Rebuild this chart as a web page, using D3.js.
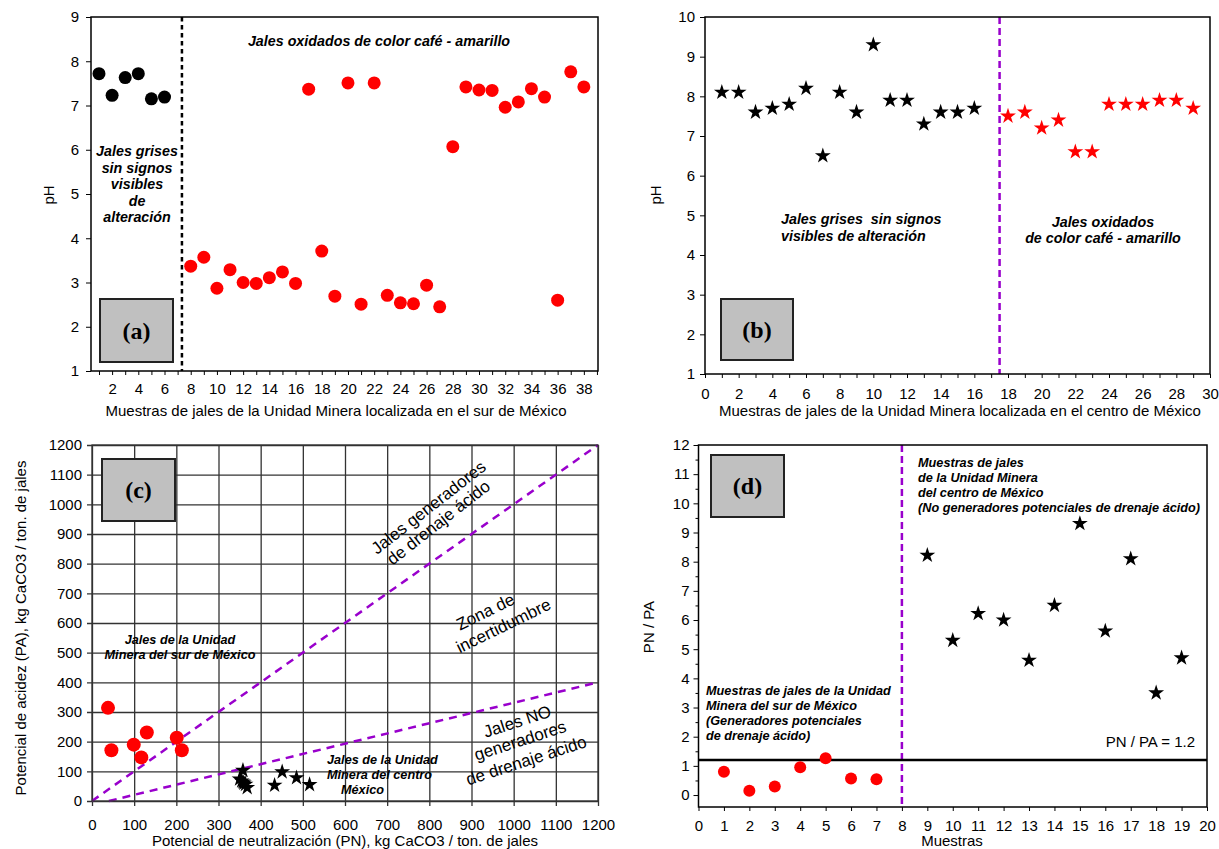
<!DOCTYPE html>
<html>
<head>
<meta charset="utf-8">
<script src="https://cdn.jsdelivr.net/npm/d3@7"></script>
<style>
  body { margin: 0; background: #fff; }
  svg { font-family: "Liberation Sans", Arial, sans-serif; }
  .note { font-weight: bold; font-style: italic; font-size: 12.7px; white-space: pre; }
  .note.big { font-size: 14.3px; }
  .zone { font-size: 17px; }
  .tick text { font-size: 15px; fill: #000; }
  .axis-label { font-size: 15px; }
  .tag { font-family: "Liberation Serif", "Times New Roman", serif; font-weight: bold; font-size: 24px; }
</style>
</head>
<body>
<svg id="chart" width="1219" height="849"></svg>
<script>
// (a) pH, unidad minera del sur
const muestrasGrisSur = [1, 2, 3, 4, 5, 6];
const phGrisSur = [7.72, 7.23, 7.63, 7.72, 7.15, 7.19];
const muestrasOxSur = [8, 9, 10, 11, 12, 13, 14, 15, 16, 17, 18, 19, 20, 21, 22, 23,
  24, 25, 26, 27, 28, 29, 30, 31, 32, 33, 34, 35, 36, 37, 38];
const phOxSur = [3.37, 3.57, 2.87, 3.29, 3.0, 2.98, 3.11, 3.24, 2.98, 7.37, 3.71, 2.69,
  7.51, 2.51, 7.51, 2.71, 2.54, 2.52, 2.94, 2.45, 6.07, 7.42, 7.35, 7.34, 6.96, 7.08,
  7.38, 7.19, 2.6, 7.76, 7.42];

// (b) pH, unidad minera del centro
const muestrasGrisCentro = [1, 2, 3, 4, 5, 6, 7, 8, 9, 10, 11, 12, 13, 14, 15, 16];
const phGrisCentro = [8.1, 8.1, 7.6, 7.7, 7.8, 8.2, 6.5, 8.1, 7.6, 9.3, 7.9, 7.9, 7.3, 7.6, 7.6, 7.7];
const muestrasOxCentro = [18, 19, 20, 21, 22, 23, 24, 25, 26, 27, 28, 29];
const phOxCentro = [7.5, 7.6, 7.2, 7.4, 6.6, 6.6, 7.8, 7.8, 7.8, 7.9, 7.9, 7.7];

// (c) PA vs PN
const pnSur = [38, 46, 99, 117, 130, 201, 213];
const paSur = [314, 171, 190, 147, 231, 213, 171];
const pnCentro = [433, 355, 485, 360, 451, 364, 516, 358, 368, 358, 350];
const paCentro = [53, 67, 78, 60, 98, 56, 55, 64, 45, 103, 74];

// (d) PN / PA
const muestrasSur = [1, 2, 3, 4, 5, 6, 7];
const ratioSur = [0.8, 0.15, 0.29, 0.95, 1.26, 0.57, 0.54];
const muestrasCentro = [9, 10, 11, 12, 13, 14, 15, 16, 17, 18, 19];
const ratioCentro = [8.22, 5.3, 6.22, 6.0, 4.62, 6.5, 9.31, 5.62, 8.1, 3.5, 4.7];

const purple = '#9900cc';
const star = d3.symbol().type(d3.symbolStar).size(78);
const svg = d3.select('#chart');

const makePanel = (b, xDom, yDom) => {
  const w = b.right - b.left;
  const h = b.bottom - b.top;
  const g = svg.append('g').attr('transform', `translate(${b.left},${b.top})`);
  const x = d3.scaleLinear().domain(xDom).range([0, w]);
  const y = d3.scaleLinear().domain(yDom).range([h, 0]);
  return { g, x, y, w, h };
};

const frame = p => p.g.append('rect')
  .attr('width', p.w).attr('height', p.h)
  .attr('fill', 'none').attr('stroke', '#000').attr('stroke-width', 1.5);

const styleAxis = sel => {
  sel.selectAll('.domain').remove();
  sel.selectAll('.tick line').attr('stroke', '#000');
};

const tagBox = (x0, y0, x1, y1, label) => {
  svg.append('rect')
    .attr('x', x0).attr('y', y0).attr('width', x1 - x0).attr('height', y1 - y0)
    .attr('fill', '#c0c0c0').attr('stroke', '#222').attr('stroke-width', 2);
  svg.append('text').attr('class', 'tag')
    .attr('x', (x0 + x1) / 2).attr('y', (y0 + y1) / 2 + 8)
    .attr('text-anchor', 'middle').text(label);
};

const lines = (x, y0, step, rows, anchor, big) => {
  const t = svg.append('text').attr('class', big ? 'note big' : 'note')
    .attr('text-anchor', anchor || 'start');
  rows.forEach((r, i) => t.append('tspan').attr('x', x).attr('y', y0 + i * step).text(r));
};

const rotated = (cx, cy, angle, txt) => svg.append('text')
  .attr('class', 'zone')
  .attr('text-anchor', 'middle')
  .attr('transform', `translate(${cx},${cy}) rotate(${angle})`)
  .text(txt);

// ---------- (a) ----------
const pa = makePanel({ left: 91, top: 17, right: 598, bottom: 371 }, [0.39, 39.08], [1, 9]);

pa.g.append('g')
  .attr('transform', `translate(0,${pa.h})`)
  .call(d3.axisBottom(pa.x).tickValues(d3.range(1, 40))
    .tickFormat(d => d % 2 === 0 ? d : '').tickSize(4).tickPadding(8))
  .call(styleAxis);
pa.g.append('g')
  .call(d3.axisLeft(pa.y).ticks(8).tickSize(5).tickPadding(7))
  .call(styleAxis);

pa.g.append('line')
  .attr('x1', pa.x(7.33)).attr('x2', pa.x(7.33)).attr('y1', 0).attr('y2', pa.h)
  .attr('stroke', '#000').attr('stroke-width', 2.5).attr('stroke-dasharray', '4.5,3.5');

pa.g.selectAll('.gris').data(muestrasGrisSur).enter().append('circle')
  .attr('cx', d => pa.x(d)).attr('cy', (d, i) => pa.y(phGrisSur[i]))
  .attr('r', 6.5).attr('fill', '#000');
pa.g.selectAll('.ox').data(muestrasOxSur).enter().append('circle')
  .attr('cx', d => pa.x(d)).attr('cy', (d, i) => pa.y(phOxSur[i]))
  .attr('r', 6.5).attr('fill', '#ff0000');
frame(pa);

svg.append('text').attr('class', 'axis-label')
  .attr('transform', 'translate(54,195) rotate(-90)')
  .attr('text-anchor', 'middle').text('pH');
svg.append('text').attr('class', 'axis-label')
  .attr('x', 336).attr('y', 416).attr('text-anchor', 'middle')
  .text('Muestras de jales de la Unidad Minera localizada en el sur de México');
lines(379, 46, 0, ['Jales oxidados de color café - amarillo'], 'middle', true);
lines(137, 156, 16.5, ['Jales grises', 'sin signos', 'visibles', 'de', 'alteración'], 'middle', true);
tagBox(100, 299, 173, 362, '(a)');

// ---------- (b) ----------
const pb = makePanel({ left: 705, top: 17, right: 1210, bottom: 374 }, [0, 30], [1, 10]);

pb.g.append('g')
  .attr('transform', `translate(0,${pb.h})`)
  .call(d3.axisBottom(pb.x).tickValues(d3.range(0, 31))
    .tickFormat(d => d % 2 === 0 ? d : '').tickSize(4).tickPadding(10))
  .call(styleAxis);
pb.g.append('g')
  .call(d3.axisLeft(pb.y).ticks(9).tickSize(5).tickPadding(5))
  .call(styleAxis);

pb.g.append('line')
  .attr('x1', pb.x(17.5)).attr('x2', pb.x(17.5)).attr('y1', 0).attr('y2', pb.h)
  .attr('stroke', purple).attr('stroke-width', 2.5).attr('stroke-dasharray', '7,4');

pb.g.selectAll('.gris').data(muestrasGrisCentro).enter().append('path')
  .attr('d', star).attr('fill', '#000')
  .attr('transform', (d, i) => `translate(${pb.x(d)},${pb.y(phGrisCentro[i])})`);
pb.g.selectAll('.ox').data(muestrasOxCentro).enter().append('path')
  .attr('d', star).attr('fill', '#ff0000')
  .attr('transform', (d, i) => `translate(${pb.x(d)},${pb.y(phOxCentro[i])})`);
frame(pb);

svg.append('text').attr('class', 'axis-label')
  .attr('transform', 'translate(661,195) rotate(-90)')
  .attr('text-anchor', 'middle').text('pH');
svg.append('text').attr('class', 'axis-label')
  .attr('x', 960).attr('y', 416).attr('text-anchor', 'middle')
  .text('Muestras de jales de la Unidad Minera localizada en el centro de México');
lines(781, 224, 17, ['Jales grises  sin signos', 'visibles de alteración'], 'start', true);
lines(1103, 227, 16, ['Jales oxidados', 'de color café - amarillo'], 'middle', true);
tagBox(721, 299, 793, 360, '(b)');

// ---------- (c) ----------
const pc = makePanel({ left: 92, top: 445, right: 598, bottom: 801 }, [0, 1200], [0, 1200]);

pc.g.append('g')
  .attr('transform', `translate(0,${pc.h})`)
  .call(d3.axisBottom(pc.x).tickValues(d3.range(0, 1201, 100)).tickFormat(d => d)
    .tickSize(-pc.h).tickPadding(18))
  .call(styleAxis)
  .call(g => g.selectAll('.tick line').attr('stroke', '#333').attr('stroke-width', 1.3)
    .attr('y1', 5));
pc.g.append('g')
  .call(d3.axisLeft(pc.y).tickValues(d3.range(0, 1201, 100)).tickFormat(d => d)
    .tickSize(-pc.w).tickPadding(10))
  .call(styleAxis)
  .call(g => g.selectAll('.tick line').attr('stroke', '#333').attr('stroke-width', 1.3)
    .attr('x1', -5));

pc.g.append('line')
  .attr('x1', pc.x(0)).attr('y1', pc.y(0)).attr('x2', pc.x(1200)).attr('y2', pc.y(1200))
  .attr('stroke', purple).attr('stroke-width', 2.5).attr('stroke-dasharray', '8,6');
pc.g.append('line')
  .attr('x1', pc.x(40)).attr('y1', pc.y(0)).attr('x2', pc.x(1200)).attr('y2', pc.y(400))
  .attr('stroke', purple).attr('stroke-width', 2.5).attr('stroke-dasharray', '8,6');

pc.g.selectAll('.sur').data(pnSur).enter().append('circle')
  .attr('cx', d => pc.x(d)).attr('cy', (d, i) => pc.y(paSur[i]))
  .attr('r', 7).attr('fill', '#ff0000');
pc.g.selectAll('.centro').data(pnCentro).enter().append('path')
  .attr('d', star).attr('fill', '#000')
  .attr('transform', (d, i) => `translate(${pc.x(d)},${pc.y(paCentro[i])})`);
pc.g.append('rect')
  .attr('width', pc.w).attr('height', pc.h)
  .attr('fill', 'none').attr('stroke', '#333').attr('stroke-width', 1.3);

svg.append('text').attr('class', 'axis-label')
  .attr('transform', 'translate(26,628) rotate(-90)')
  .attr('text-anchor', 'middle').text('Potencial de acidez (PA), kg CaCO3 / ton. de jales');
svg.append('text').attr('class', 'axis-label')
  .attr('x', 345).attr('y', 846).attr('text-anchor', 'middle')
  .text('Potencial de neutralización (PN), kg CaCO3 / ton. de jales');
lines(180, 644, 15, ['Jales de la Unidad', 'Minera del sur de México'], 'middle');
lines(327, 764, 15, ['Jales de la Unidad', 'Minera del centro']);
lines(341, 794, 0, ['México']);
rotated(432, 512, -38, 'Jales generadores');
rotated(442, 527, -38, 'de drenaje ácido');
rotated(488, 617, -26, 'Zona de');
rotated(506, 631, -26, 'incertidumbre');
rotated(519, 727, -18, 'Jales NO');
rotated(522, 746, -18, 'generadores');
rotated(528, 766, -18, 'de drenaje ácido');
tagBox(102, 459, 175, 521, '(c)');

// ---------- (d) ----------
const pd = makePanel({ left: 698.5, top: 445, right: 1207, bottom: 807 }, [0, 20], [-0.41, 12]);

pd.g.append('g')
  .attr('transform', `translate(0,${pd.h})`)
  .call(d3.axisBottom(pd.x).tickValues(d3.range(0, 21)).tickSize(4).tickPadding(9))
  .call(styleAxis);
pd.g.append('g')
  .call(d3.axisLeft(pd.y).tickValues(d3.range(0, 13)).tickSize(5).tickPadding(4))
  .call(styleAxis);
pd.g.append('g')
  .call(d3.axisLeft(pd.y).tickValues(d3.range(0.5, 12, 1)).tickSize(3).tickFormat(''))
  .call(styleAxis);

pd.g.append('line')
  .attr('x1', pd.x(8)).attr('x2', pd.x(8)).attr('y1', 0).attr('y2', pd.h)
  .attr('stroke', purple).attr('stroke-width', 2.5).attr('stroke-dasharray', '7,4');
pd.g.append('line')
  .attr('x1', 0).attr('x2', pd.w).attr('y1', pd.y(1.2)).attr('y2', pd.y(1.2))
  .attr('stroke', '#000').attr('stroke-width', 2.5);

pd.g.selectAll('.sur').data(muestrasSur).enter().append('circle')
  .attr('cx', d => pd.x(d)).attr('cy', (d, i) => pd.y(ratioSur[i]))
  .attr('r', 6).attr('fill', '#ff0000');
pd.g.selectAll('.centro').data(muestrasCentro).enter().append('path')
  .attr('d', star).attr('fill', '#000')
  .attr('transform', (d, i) => `translate(${pd.x(d)},${pd.y(ratioCentro[i])})`);
frame(pd);

svg.append('text').attr('class', 'axis-label')
  .attr('transform', 'translate(654,627) rotate(-90)')
  .attr('text-anchor', 'middle').text('PN / PA');
svg.append('text').attr('class', 'axis-label')
  .attr('x', 952).attr('y', 846).attr('text-anchor', 'middle').text('Muestras');
svg.append('text').attr('class', 'axis-label')
  .attr('x', 1195).attr('y', 747).attr('text-anchor', 'end').text('PN / PA = 1.2');
lines(918, 467, 15, ['Muestras de jales', 'de la Unidad Minera', 'del centro de México',
  '(No generadores potenciales de drenaje ácido)']);
lines(706, 695, 15, ['Muestras de jales de la Unidad', 'Minera del sur de México',
  '(Generadores potenciales', 'de drenaje ácido)']);
tagBox(711, 455, 784, 517, '(d)');
</script>
</body>
</html>
